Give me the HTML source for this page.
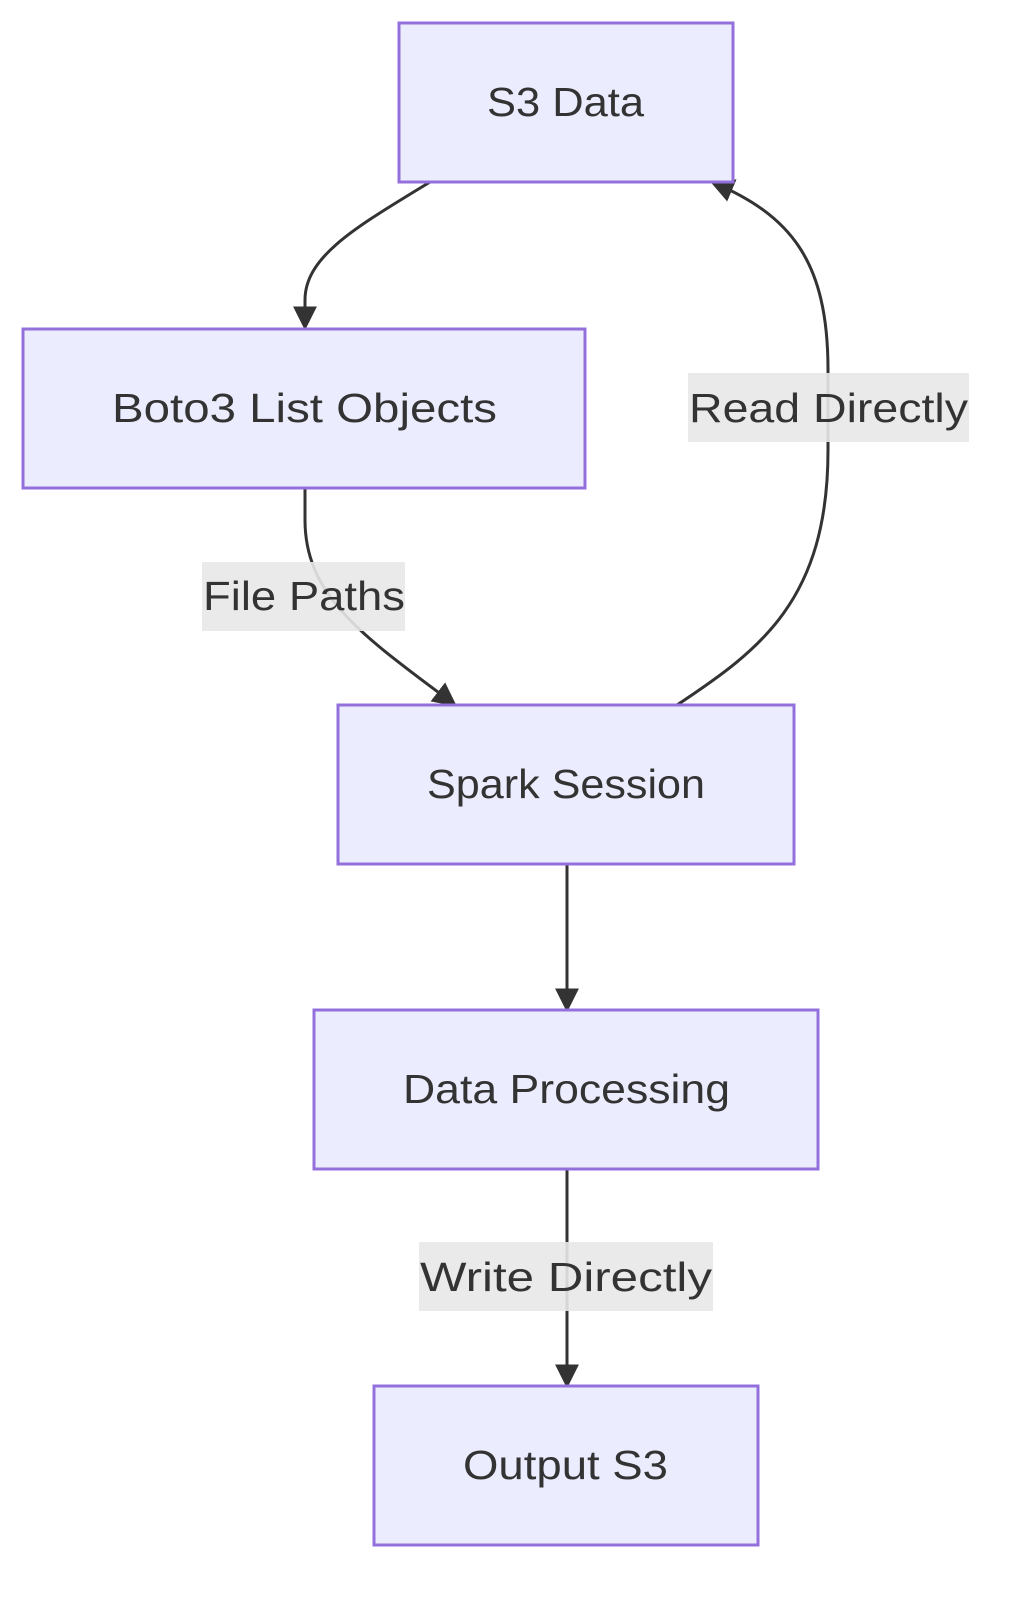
<!DOCTYPE html>
<html><head><style>
body{margin:0;background:#fff;}
svg{display:block;}
text{font-family:"Liberation Sans","DejaVu Sans",sans-serif;fill:#333;font-size:41px;}
</style></head><body>
<svg width="1013" height="1602" viewBox="0 0 1013 1602">
<defs>
<marker id="b" viewBox="0 0 10 10" refX="9" refY="5" markerWidth="24" markerHeight="24" orient="auto" markerUnits="userSpaceOnUse"><path d="M0,0L10,5L0,10z" fill="#333"/></marker></defs>
<g fill="none" stroke="#333" stroke-width="3">
<path d="M430,182 C360,225 305,255 305,300 L305,328" marker-end="url(#b)"/>
<path d="M305,488 L305,520 C305,600 370,640 455,705" marker-end="url(#b)"/>
<path d="M677,705 C760,650 828,600 828,450 L828,370 C828,260 790,215 712,182" marker-end="url(#b)"/>
<path d="M567,864 L567,1010" marker-end="url(#b)"/>
<path d="M567,1169 L567,1386" marker-end="url(#b)"/>
</g>
<g fill="#ececff" stroke="#9370db" stroke-width="3">
<rect x="399" y="23" width="334" height="159"/>
<rect x="23" y="329" width="562" height="159"/>
<rect x="338" y="705" width="456" height="159"/>
<rect x="314" y="1010" width="504" height="159"/>
<rect x="374" y="1386" width="384" height="159"/>
</g>
<g fill="#e8e8e8" opacity="0.9">
<rect x="202" y="562" width="203" height="69"/>
<rect x="688" y="373" width="281" height="69"/>
<rect x="419" y="1242" width="294" height="69"/>
</g>
<g>
<text x="487" y="116" textLength="157" lengthAdjust="spacingAndGlyphs">S3 Data</text>
<text x="112" y="422" textLength="385" lengthAdjust="spacingAndGlyphs">Boto3 List Objects</text>
<text x="427" y="798" textLength="278" lengthAdjust="spacingAndGlyphs">Spark Session</text>
<text x="403" y="1103" textLength="327" lengthAdjust="spacingAndGlyphs">Data Processing</text>
<text x="463" y="1479" textLength="205" lengthAdjust="spacingAndGlyphs">Output S3</text>
<text x="203" y="610" textLength="202" lengthAdjust="spacingAndGlyphs">File Paths</text>
<text x="689" y="422" textLength="279" lengthAdjust="spacingAndGlyphs">Read Directly</text>
<text x="420" y="1291" textLength="292" lengthAdjust="spacingAndGlyphs">Write Directly</text>
</g>
</svg>
</body></html>
